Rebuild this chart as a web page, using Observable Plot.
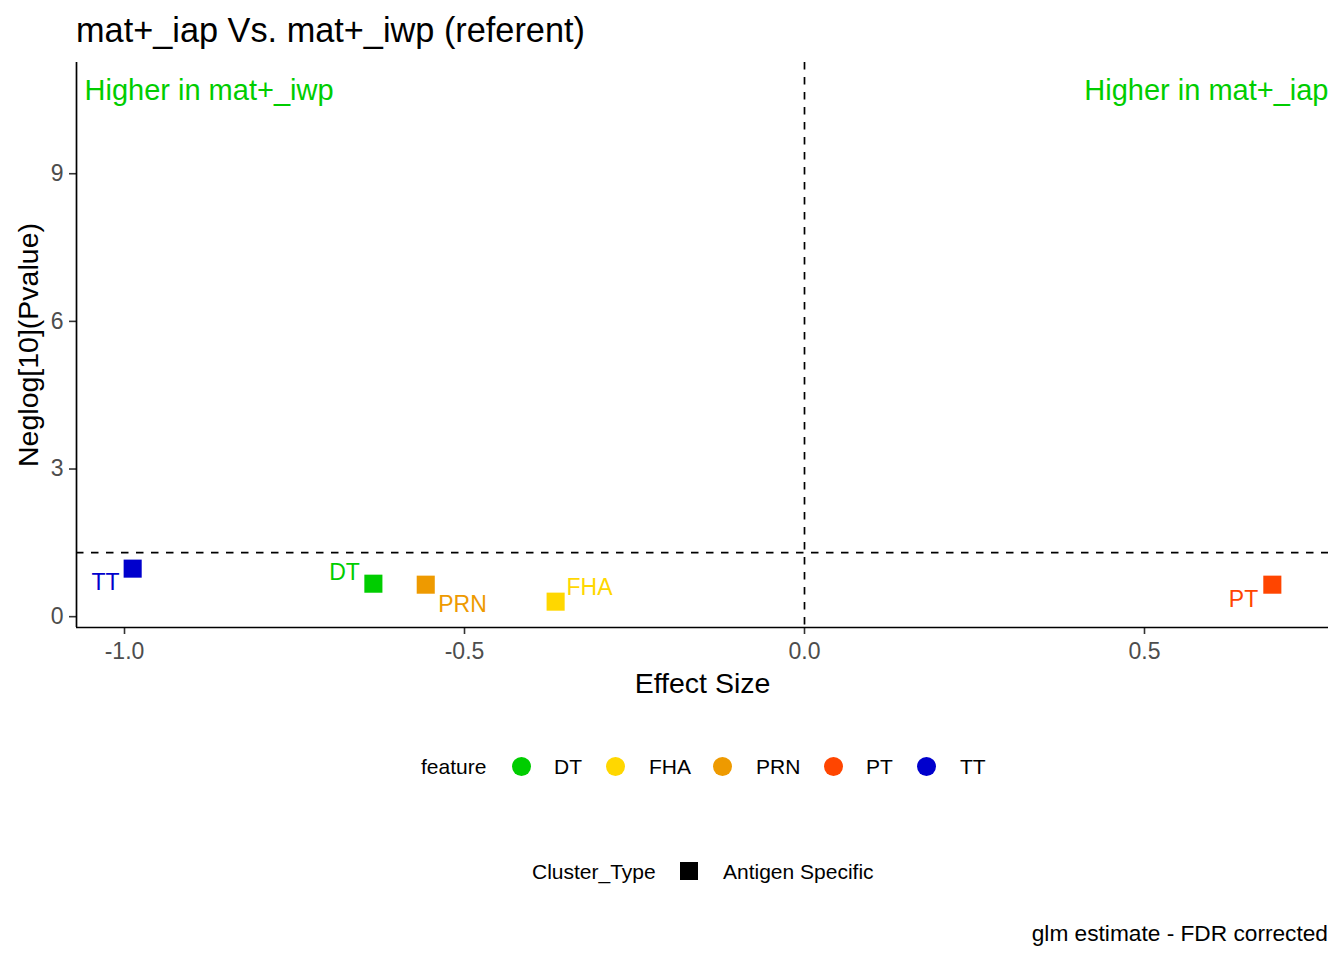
<!DOCTYPE html>
<html>
<head>
<meta charset="utf-8">
<script src="https://cdn.jsdelivr.net/npm/d3@7"></script>
<script src="https://cdn.jsdelivr.net/npm/@observablehq/plot@0.6"></script>
<style>
  body { margin:0; background:#fff; font-family:"Liberation Sans", Arial, sans-serif; }
  #wrap { position:relative; width:1344px; height:960px; overflow:hidden; }
  #chart { position:absolute; left:0; top:0; }
  .abs { position:absolute; white-space:nowrap; line-height:1; }
  .sw { position:absolute; }
</style>
</head>
<body>
<div id="wrap">
  <div id="chart"></div>
</div>
<script>
const features = ["DT", "FHA", "PRN", "PT", "TT"];
const featureColors = ["#00CD00", "#FFD700", "#EE9A00", "#FF4500", "#0000CD"];
const effectSize = [-0.634, -0.366, -0.557, 0.688, -0.988];
const negLogP = [0.67, 0.305, 0.65, 0.65, 0.976];
const labelX = [-0.6765, -0.3162, -0.5029, 0.6456, -1.0279];
const labelY = [0.894, 0.589, 0.244, 0.346, 0.691];
const clusterType = ["Antigen Specific"];
const xTicks = [-1.0, -0.5, 0.0, 0.5];
const yTicks = [0, 3, 6, 9];
const xDomain = [-1.0706, 0.7706];
const yDomain = [-0.22, 11.26];
const pThreshold = -Math.log10(0.05);

const data = features.map((f, i) => ({
  feature: f, x: effectSize[i], y: negLogP[i], lx: labelX[i], ly: labelY[i], type: clusterType[0]
}));

const font = '"Liberation Sans", Arial, sans-serif';

const plot = Plot.plot({
  width: 1344,
  height: 700,
  marginTop: 62,
  marginLeft: 76,
  marginRight: 16,
  marginBottom: 73,
  style: { fontFamily: font, background: "transparent" },
  x: { domain: xDomain, label: null },
  y: { domain: yDomain, label: null },
  color: { domain: features, range: featureColors },
  marks: [
    Plot.axisX({ ticks: xTicks, tickFormat: d => d.toFixed(1), tickSize: 7, tickPadding: 8, fontSize: 23, fill: "#4D4D4D", stroke: "#333333", strokeWidth: 1.6, label: null }),
    Plot.axisY({ ticks: yTicks, tickFormat: d => String(d), tickSize: 7, tickPadding: 6, fontSize: 23, fill: "#4D4D4D", stroke: "#333333", strokeWidth: 1.6, label: null }),
    Plot.ruleY([yDomain[0]], { stroke: "#000", strokeWidth: 1.7 }),
    Plot.ruleX([xDomain[0]], { stroke: "#000", strokeWidth: 1.7 }),
    Plot.ruleX([0], { stroke: "#000", strokeWidth: 1.7, strokeDasharray: "7.5,7.5" }),
    Plot.ruleY([pThreshold], { stroke: "#000", strokeWidth: 1.7, strokeDasharray: "7.5,7.5" }),
    Plot.dot(data, { x: "x", y: "y", symbol: "square", r: 10.2, fill: "feature", stroke: null }),
    Plot.text(data, { x: "lx", y: "ly", text: "feature", fill: "feature", fontSize: 23, textAnchor: "middle", lineAnchor: "middle" }),
    Plot.text(["Higher in mat+_iwp"], { frameAnchor: "top-left", dx: 8, dy: 28, text: d => d, fill: "#00CD00", fontSize: 29, textAnchor: "start", lineAnchor: "middle" }),
    Plot.text(["Higher in mat+_iap"], { frameAnchor: "top-right", dx: 0, dy: 28, text: d => d, fill: "#00CD00", fontSize: 29, textAnchor: "end", lineAnchor: "middle" }),
    Plot.text(["Effect Size"], { frameAnchor: "bottom", dy: 56, text: d => d, fill: "#000", fontSize: 28.5, textAnchor: "middle", lineAnchor: "middle" }),
    Plot.text(["Neglog[10](Pvalue)"], { frameAnchor: "left", dx: -48, rotate: -90, text: d => d, fill: "#000", fontSize: 28.5, textAnchor: "middle", lineAnchor: "middle" })
  ]
});
document.getElementById("chart").appendChild(plot);

const wrap = document.getElementById("wrap");
function addText(txt, left, top, size, color, anchor) {
  const d = document.createElement("div");
  d.className = "abs";
  d.textContent = txt;
  d.style.fontSize = size + "px";
  d.style.color = color;
  d.style.top = (top - size / 2) + "px";
  if (anchor === "end") { d.style.right = (1344 - left) + "px"; }
  else { d.style.left = left + "px"; }
  wrap.appendChild(d);
  return d;
}
// title
addText("mat+_iap Vs. mat+_iwp (referent)", 76, 30, 34.3, "#000");

// feature legend
const legY = 766;
addText("feature", 421, legY, 21, "#000");
const swX = [521, 615, 722, 833, 926];
const lbX = [554, 649, 756, 866, 960];
features.forEach((f, i) => {
  const s = document.createElement("div");
  s.className = "sw";
  s.style.left = (swX[i] - 9.5) + "px";
  s.style.top = (legY - 9.5) + "px";
  s.style.width = "19px"; s.style.height = "19px";
  s.style.borderRadius = "50%";
  s.style.background = featureColors[i];
  wrap.appendChild(s);
  addText(f, lbX[i], legY, 21, "#000");
});

// cluster type legend
const leg2Y = 871;
addText("Cluster_Type", 532, leg2Y, 21, "#000");
const sq = document.createElement("div");
sq.className = "sw";
sq.style.left = (689 - 9) + "px"; sq.style.top = (leg2Y - 9) + "px";
sq.style.width = "18px"; sq.style.height = "18px"; sq.style.background = "#000";
wrap.appendChild(sq);
addText(clusterType[0], 723, leg2Y, 21, "#000");

// caption
addText("glm estimate - FDR corrected", 1328, 933, 22.7, "#000", "end");
</script>
</body>
</html>
